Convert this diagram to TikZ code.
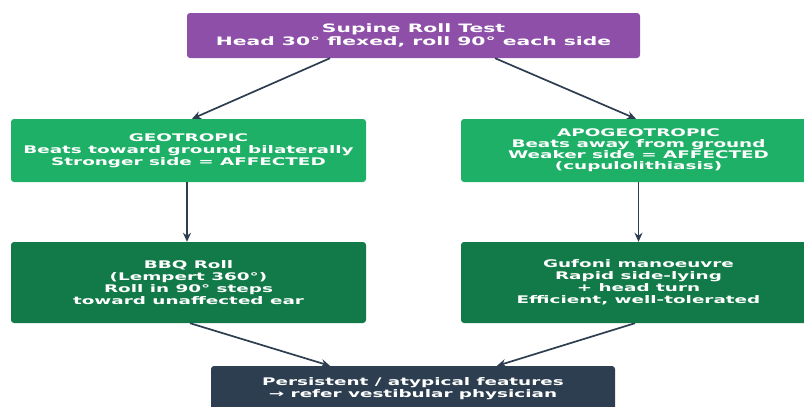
\documentclass[tikz,border=0pt]{standalone}
\usepackage{fontspec}
\setmainfont{DejaVu Sans}[FakeStretch=1.75]
\usetikzlibrary{arrows.meta}
\definecolor{cpurple}{HTML}{8E4FA8}
\definecolor{cgreen}{HTML}{1FB068}
\definecolor{cdgreen}{HTML}{127A48}
\definecolor{cnavy}{HTML}{2C3E50}
\tikzset{
  box/.style={rectangle, rounded corners=3pt, text=white, align=center,
    font=\bfseries\fontsize{10.5}{12}\selectfont, inner sep=0pt},
  titlebox/.style={box, font=\bfseries\fontsize{11.6}{12.5}\selectfont},
  tightbox/.style={box, font=\bfseries\fontsize{10.5}{11}\selectfont},
  conn/.style={draw=cnavy, line width=1.7pt, -{Stealth[length=9pt,width=8pt]}}
}
\begin{document}
\begin{tikzpicture}[x=1pt,y=-1pt]
\useasboundingbox (0,0) rectangle (804,407);
\node[titlebox, fill=cpurple, minimum width=453pt, minimum height=45pt] (top) at (413.5,35.5)
  {Supine Roll Test\\Head 30° flexed, roll 90° each side};
\node[box, fill=cgreen, minimum width=355pt, minimum height=63pt] (geo) at (188.5,150.5)
  {GEOTROPIC\\Beats toward ground bilaterally\\Stronger side = AFFECTED};
\node[tightbox, fill=cgreen, minimum width=355pt, minimum height=63pt] (apo) at (638.5,150.5)
  {APOGEOTROPIC\\Beats away from ground\\Weaker side = AFFECTED\\(cupulolithiasis)};
\node[box, fill=cdgreen, minimum width=355pt, minimum height=81pt] (bbq) at (188.5,282.5)
  {BBQ Roll\\(Lempert 360°)\\Roll in 90° steps\\toward unaffected ear};
\node[box, fill=cdgreen, minimum width=355pt, minimum height=81pt] (guf) at (638.5,282.5)
  {Gufoni manoeuvre\\Rapid side-lying\\+ head turn\\Efficient, well-tolerated};
\node[box, fill=cnavy, minimum width=404pt, minimum height=45pt] (end) at (413,388.5)
  {Persistent / atypical features\\→ refer vestibular physician};
\draw[conn] ([xshift=-83.5pt]top.south) -- ([xshift=3.5pt]geo.north);
\draw[conn] ([xshift=81.5pt]top.south) -- ([xshift=-2.5pt]apo.north);
\draw[conn] ([xshift=-1.5pt]geo.south) -- ([xshift=-1.5pt]bbq.north);
\draw[conn] (apo.south) -- (guf.north);
\draw[conn] ([xshift=1.5pt]bbq.south) -- ([xshift=-83pt]end.north);
\draw[conn] ([xshift=-3.5pt]guf.south) -- ([xshift=84pt]end.north);
\end{tikzpicture}
\end{document}
